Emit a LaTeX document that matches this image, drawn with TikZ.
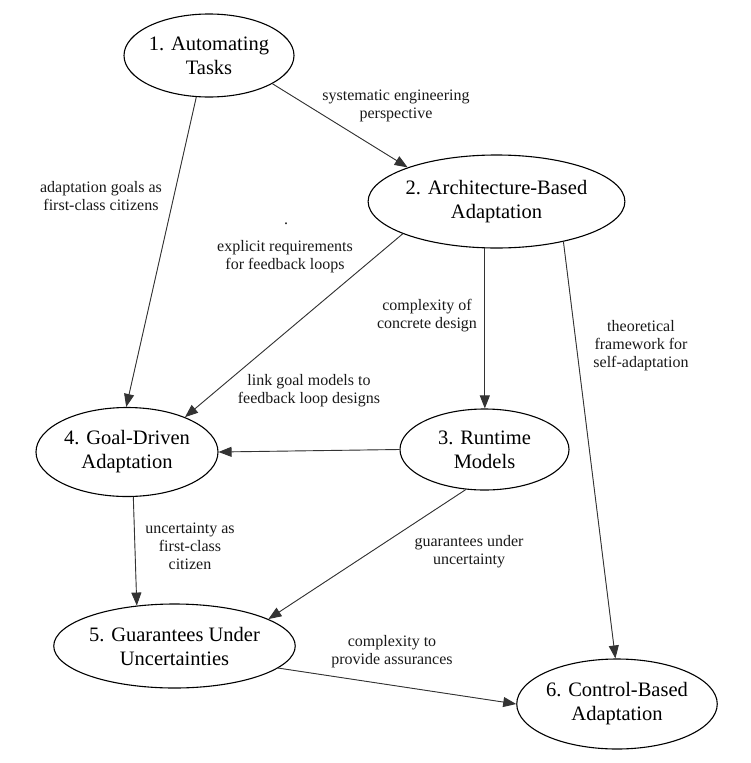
\documentclass[tikz,border=0pt]{standalone}
\usepackage{fontspec}
\setmainfont{Liberation Serif}
\newfontfamily\tmsfont{Liberation Serif}
\usetikzlibrary{shapes.geometric,arrows.meta}
\tikzset{
  st/.style={ellipse, draw=black, line width=1.1pt, inner sep=0pt, align=center,
    font=\tmsfont\fontsize{20.5}{24}\selectfont},
  lbl/.style={align=center, inner sep=0pt, font=\tmsfont\fontsize{16}{18}\selectfont, text=black!90},
  arr/.style={draw=black!80, line width=0.9pt, -{Triangle[length=13pt,width=10pt]}, fill=black!80},
}
\begin{document}
\begin{tikzpicture}[x=1pt,y=-1pt]
\useasboundingbox (0,0) rectangle (750,763);
% states
\node[st, minimum width=170pt, minimum height=83pt] (n1) at (209,55.5) {1. Automating\\Tasks};
\node[st, minimum width=241pt, minimum height=93pt] (n2) at (496.5,201.5) {2. Architecture-Based\\Adaptation};
\node[st, minimum width=169pt, minimum height=81pt] (n3) at (484.5,449.5) {3. Runtime\\Models};
\node[st, minimum width=182pt, minimum height=89pt] (n4) at (127,452) {4. Goal-Driven\\Adaptation};
\node[st, minimum width=221pt, minimum height=84pt] (n5) at (174.5,646) {5. Guarantees Under\\Uncertainties};
\node[st, minimum width=188pt, minimum height=90pt] (n6) at (617,704) {6. Control-Based\\Adaptation};
% labels
\node[lbl] (l12) at (396,106) {systematic engineering\\perspective};
\node[lbl] (l14) at (101,196) {adaptation goals as\\first-class citizens};
\node[lbl] (ldot) at (286,224) {.};
\node[lbl] (l24) at (285,257) {explicit requirements\\for feedback loops};
\node[lbl] (l23) at (427,316) {complexity of\\concrete design};
\node[lbl] (l26) at (641,346) {theoretical\\framework for\\self-adaptation};
\node[lbl] (l34) at (309,391) {link goal models to\\feedback loop designs};
\node[lbl] (l45) at (190,546) {uncertainty as\\first-class\\citizen};
\node[lbl] (l35) at (469,552) {guarantees under\\uncertainty};
\node[lbl] (l56) at (392,652) {complexity to\\provide assurances};
% edges
\draw[arr] (n1.-24.3) -- (n2.159.2);
\draw[arr] (n1.-107.4) -- (n4.91.3);
\draw[arr] (n2.-161.4) -- (n4.31.7);
\draw[arr] (n2.-104) -- (n2.-104 |- n3.north);
\draw[arr] (n2.-31.7) -- (n6.92.5);
\draw[arr] (n3.west) -- (n4.east);
\draw[arr] (n3.-115.7) -- (n5.16.4);
\draw[arr] (n4.-82.4) -- (n5.133.2);
\draw[arr] (n5.-12.7) -- (n6.west);
\end{tikzpicture}
\end{document}
